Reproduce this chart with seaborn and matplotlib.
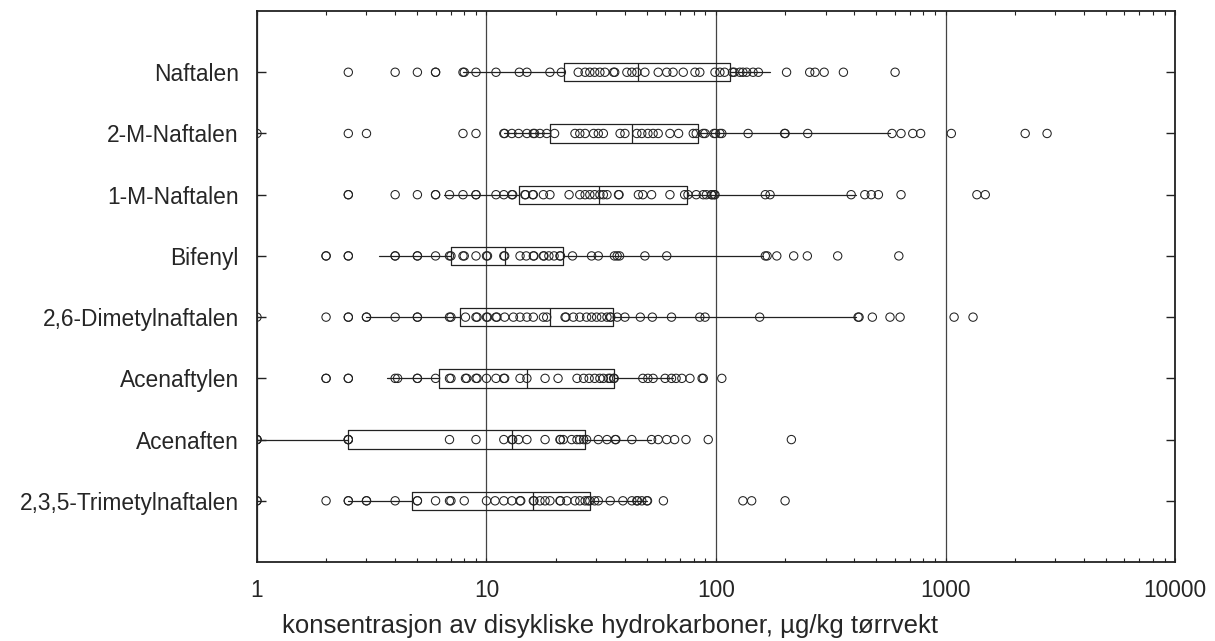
import matplotlib

matplotlib.use("Agg")
import matplotlib.pyplot as plt  # noqa: E402
import seaborn as sns  # noqa: E402
import pandas as pd  # noqa: E402

# Compounds, top to bottom.
COMPOUNDS = [
    "Naftalen",
    "2-M-Naftalen",
    "1-M-Naftalen",
    "Bifenyl",
    "2,6-Dimetylnaftalen",
    "Acenaftylen",
    "Acenaften",
    "2,3,5-Trimetylnaftalen",
]

NAFTALEN = [2.5, 4.0, 5.0, 6.0, 6.0, 7.9, 8.0, 9.0, 11.0, 13.9, 15.0, 18.9, 21.2,
            25.1, 26.9, 28.2, 29.6, 31.2, 32.8, 35.8, 36.2, 40.9, 43.0, 45.2, 49.0,
            56, 61, 65, 72, 81, 85, 99, 104, 109, 118, 120, 127, 131, 136, 145, 153,
            203, 256, 270, 296, 359, 603]
M2_NAFTALEN = [1.0, 2.5, 3.0, 7.9, 9.0, 11.9, 12.0, 12.9, 13.8, 15.0, 16.0, 16.2,
               17.1, 18.3, 19.8, 24.3, 25.5, 26.9, 29.3, 30.7, 32.3, 38.2, 40.1, 45.2,
               47.5, 50.5, 53.2, 56, 63, 68.7, 79.6, 82, 88, 89.6, 98, 99.5, 104, 106,
               138, 199, 200, 251, 585, 640, 720, 779, 1060, 2224, 2770]
M1_NAFTALEN = [2.5, 2.5, 4.0, 5.0, 6.0, 6.0, 6.9, 7.9, 9.0, 9.0, 11.0, 11.9, 12.9,
               13.0, 14.7, 14.8, 15.9, 16.0, 17.7, 18.9, 22.9, 25.5, 26.9, 28.2, 29.6,
               31.2, 32.3, 33.5, 37.6, 37.8, 45.9, 48.0, 52.4, 63, 73, 75.5, 82, 88,
               90.8, 95.5, 96, 98, 99, 164, 172, 388, 445, 475, 510, 640, 1370, 1490]
BIFENYL = [2.0, 2.0, 2.5, 2.5, 4.0, 4.0, 5.0, 5.0, 6.0, 6.9, 7.0, 7.9, 8.0, 9.0,
           10.0, 10.1, 11.9, 12.0, 14.0, 14.9, 16.0, 16.1, 17.7, 17.8, 18.7, 19.7,
           20.9, 21.0, 23.7, 28.7, 30.7, 36.1, 37.1, 38, 49, 61, 164, 167, 184, 218,
           250, 339, 626]
DIMETYL_26 = [1.0, 2.0, 2.5, 2.5, 3.0, 3.0, 4.0, 5.0, 5.0, 6.9, 7.0, 8.1, 9.0, 9.1,
              10.0, 10.1, 11.0, 11.1, 12.0, 13.1, 14.0, 15.0, 16.0, 17.7, 18.3, 22.0,
              22.2, 23.9, 25.5, 27.3, 28.7, 30.2, 31.7, 33.5, 34.6, 34.8, 37.1, 40.1,
              46.8, 52.8, 64, 85, 89.6, 155, 416, 420, 480, 573, 634, 1090, 1318]
ACENAFTYLEN = [2.0, 2.0, 2.5, 2.5, 4.0, 4.1, 5.0, 5.0, 6.0, 6.9, 7.0, 8.1, 8.2, 9.0,
               9.1, 10.0, 11.0, 11.9, 12.0, 14.0, 15.0, 18.0, 20.5, 24.8, 26.5, 28.0,
               29.6, 31.2, 32.3, 34.0, 34.6, 35.8, 36.0, 48, 50.5, 53.2, 60, 64, 67,
               71, 77, 87, 88, 106]
ACENAFTEN = [1.0, 1.0, 1.0, 2.5, 2.5, 2.5, 6.9, 9.0, 11.9, 12.9, 13.0, 13.8, 15.0,
             18.0, 20.9, 21.0, 21.6, 23.5, 24.8, 25.5, 26.5, 27.3, 30.7, 33.5, 36.4,
             36.6, 43.0, 52.4, 56, 61, 66, 74, 92.5, 213]
TRIMETYL_235 = [1.0, 1.0, 2.0, 2.5, 2.5, 3.0, 3.0, 4.0, 5.0, 5.0, 6.0, 6.9, 7.0, 8.0,
                10.0, 10.9, 11.9, 12.9, 14.0, 14.1, 16.0, 16.1, 17.1, 18.0, 18.9, 20.9,
                21.0, 22.4, 24.3, 25.5, 26.9, 27.7, 28.2, 29.6, 30.7, 34.6, 39.3, 43.0,
                45.2, 45.5, 47.5, 50, 50.3, 59, 131, 143, 200]
POINTS = [NAFTALEN, M2_NAFTALEN, M1_NAFTALEN, BIFENYL, DIMETYL_26,
          ACENAFTYLEN, ACENAFTEN, TRIMETYL_235]

# Box summary per compound, as drawn in the chart.
WHISKER_LOW = [7.9, 11.9, 6.5, 3.4, 3.0, 3.7, 1.0, 2.5]
Q1 = [21.8, 19.0, 13.9, 7.0, 7.7, 6.2, 2.5, 4.75]
MEDIAN = [45.9, 43.0, 30.9, 12.0, 19.0, 15.0, 12.9, 16.0]
Q3 = [115, 83.8, 74.8, 21.6, 35.5, 35.8, 26.9, 28.2]
WHISKER_HIGH = [172, 575, 409, 161, 409, 65, 52, 50]

X_TICKS = [1, 10, 100, 1000, 10000]
X_TICK_LABELS = ["1", "10", "100", "1000", "10000"]
X_LABEL = "konsentrasjon av disykliske hydrokarboner, µg/kg tørrvekt"

sns.set_style("ticks")
plt.rcParams["font.family"] = ["Liberation Sans", "DejaVu Sans"]
FONT_SIZE = 16.4
INK = "#222222"

df = pd.DataFrame(
    [(i, name, v) for i, (name, vals) in enumerate(zip(COMPOUNDS, POINTS)) for v in vals],
    columns=["pos", "compound", "value"],
)

fig = plt.figure(figsize=(12.15, 6.41), dpi=100)
ax = fig.add_axes([0.2115, 0.1232, 0.7556, 0.8596])
ax.set_xscale("log")

# Boxes: whiskers without caps, no fliers (all points are drawn separately).
stats = [
    dict(label=c, whislo=lo, q1=a, med=m, q3=b, whishi=hi, fliers=[])
    for c, lo, a, m, b, hi in zip(COMPOUNDS, WHISKER_LOW, Q1, MEDIAN, Q3, WHISKER_HIGH)
]
line = dict(color=INK, linewidth=0.9)
ax.bxp(
    stats, positions=range(len(COMPOUNDS)), orientation="horizontal", widths=0.3,
    showcaps=False, showfliers=False, manage_ticks=False,
    boxprops=line, whiskerprops=line, medianprops=line,
)

sns.scatterplot(
    data=df, x="value", y="pos", marker="o", s=36, facecolors="none",
    edgecolor=INK, linewidth=0.75, legend=False, zorder=3, ax=ax,
)

ax.set_xlim(1, 10000)
ax.set_ylim(len(COMPOUNDS), -1)
ax.set_xticks(X_TICKS, X_TICK_LABELS)
ax.set_yticks(range(len(COMPOUNDS)), COMPOUNDS)
ax.grid(axis="x", which="major", color="#444444", linewidth=0.9)
ax.set_axisbelow(True)

ax.tick_params(axis="x", which="both", direction="in", top=True, bottom=True,
               color=INK, labelsize=FONT_SIZE, pad=12.5)
ax.tick_params(axis="x", which="major", length=3)
ax.tick_params(axis="x", which="minor", length=3, width=0.8)
ax.tick_params(axis="y", which="major", direction="in", left=True, right=True,
               length=6.5, width=1, color=INK, labelsize=FONT_SIZE, pad=13)
ax.tick_params(axis="y", which="minor", left=False, right=False)
for s in ax.spines.values():
    s.set_visible(True)
    s.set_color(INK)
    s.set_linewidth(1.3)

ax.set_ylabel("")
ax.set_xlabel(X_LABEL, fontsize=18.5)
ax.xaxis.set_label_coords(0.3845, -0.095)

fig.savefig("out.png", dpi=100)
